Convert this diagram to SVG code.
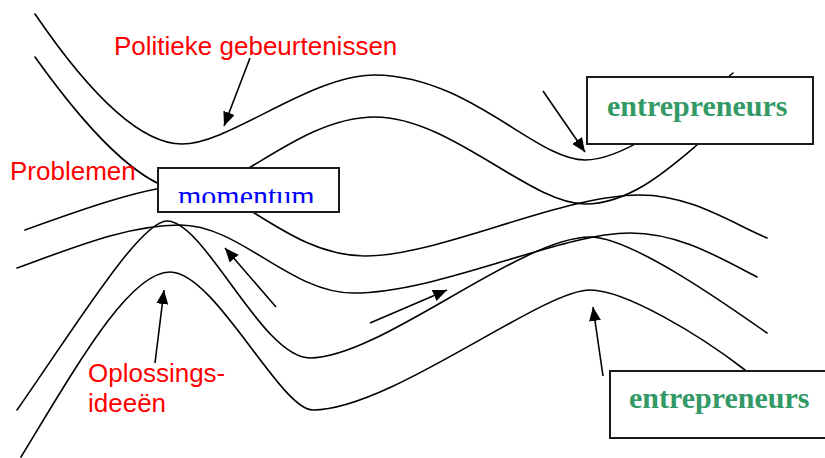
<svg xmlns="http://www.w3.org/2000/svg" width="825" height="458" viewBox="0 0 825 458">
  <style>
    .stream { fill: none; stroke: #000; stroke-width: 1.6; stroke-linecap: round; }
    .arrow { fill: none; stroke: #000; stroke-width: 1.6; marker-end: url(#head); }
    .box { fill: #fff; stroke: #1a1a1a; stroke-width: 2; }
    .label { font-family: "Liberation Sans", Arial, sans-serif; font-size: 26px; fill: #ff0000; }
    .agent { font-family: "Liberation Serif", "Times New Roman", serif; font-size: 30px; font-weight: bold; fill: #339966; }
    .moment { font-family: "Liberation Serif", "Times New Roman", serif; font-size: 30px; fill: #0000ff; }
  </style>
  <defs>
    <marker id="head" viewBox="0 0 14 12" refX="14" refY="6" markerWidth="14" markerHeight="12" markerUnits="userSpaceOnUse" orient="auto">
      <path d="M0,0 L14,6 L0,12 z" fill="#000"/>
    </marker>
    <clipPath id="momentClip">
      <rect x="160" y="169" width="177" height="34"/>
    </clipPath>
  </defs>

  <!-- three streams, two lines each -->
  <g id="streams">
    <!-- politics -->
    <path class="stream" d="M35,14 C80,80 135,144 182,144 C230,144 310,75 375,75 C470,76 535,160 585,160 C625,160 690,110 733,73"/>
    <path class="stream" d="M35,57 C80,120 140,192 190,192 C235,192 300,117 375,117 C450,117 530,204 585,204 C630,204 670,168 697,145"/>
    <!-- problems -->
    <path class="stream" d="M25,230 C80,210 150,185 190,185 C235,185 290,256 365,256 C440,256 560,195 640,195 C690,195 730,222 767,238"/>
    <path class="stream" d="M17,268 C80,245 130,225 180,225 C240,225 290,293 353,293 C440,293 560,233 630,233 C680,233 720,258 757,277"/>
    <!-- solutions -->
    <path class="stream" d="M17,410 C75,327 140,221 167,221 C205,221 262,358 310,358 C380,358 520,237 590,237 C630,237 720,300 767,333"/>
    <path class="stream" d="M21,457 C80,360 130,272 170,272 C215,272 280,410 313,410 C390,410 541,290 590,290 C625,290 700,335 745,370"/>
  </g>

  <!-- pointer arrows -->
  <g id="connectors">
    <line class="arrow" x1="250" y1="58" x2="224" y2="126"/>
    <line class="arrow" x1="543" y1="91" x2="585" y2="152"/>
    <line class="arrow" x1="276" y1="307" x2="225" y2="248"/>
    <line class="arrow" x1="155" y1="363" x2="164" y2="290"/>
    <line class="arrow" x1="370" y1="323" x2="447" y2="290"/>
    <line class="arrow" x1="603" y1="376" x2="593" y2="307"/>
  </g>

  <g id="momentum">
    <rect class="box" x="158" y="168" width="181" height="44"/>
    <text class="moment" x="178" y="206" clip-path="url(#momentClip)">momentum</text>
  </g>

  <g id="entrepreneurs-top">
    <rect class="box" x="587" y="77" width="226" height="67"/>
    <text class="agent" x="607" y="116">entrepreneurs</text>
  </g>

  <g id="entrepreneurs-bottom">
    <rect class="box" x="610" y="371" width="230" height="67"/>
    <text class="agent" x="629" y="408">entrepreneurs</text>
  </g>

  <g id="label-politics">
    <text class="label" x="114" y="55">Politieke gebeurtenissen</text>
  </g>
  <g id="label-problems">
    <text class="label" x="10" y="180">Problemen</text>
  </g>
  <g id="label-solutions">
    <text class="label" x="88" y="382">Oplossings-</text>
    <text class="label" x="88" y="412">ideeën</text>
  </g>
</svg>
